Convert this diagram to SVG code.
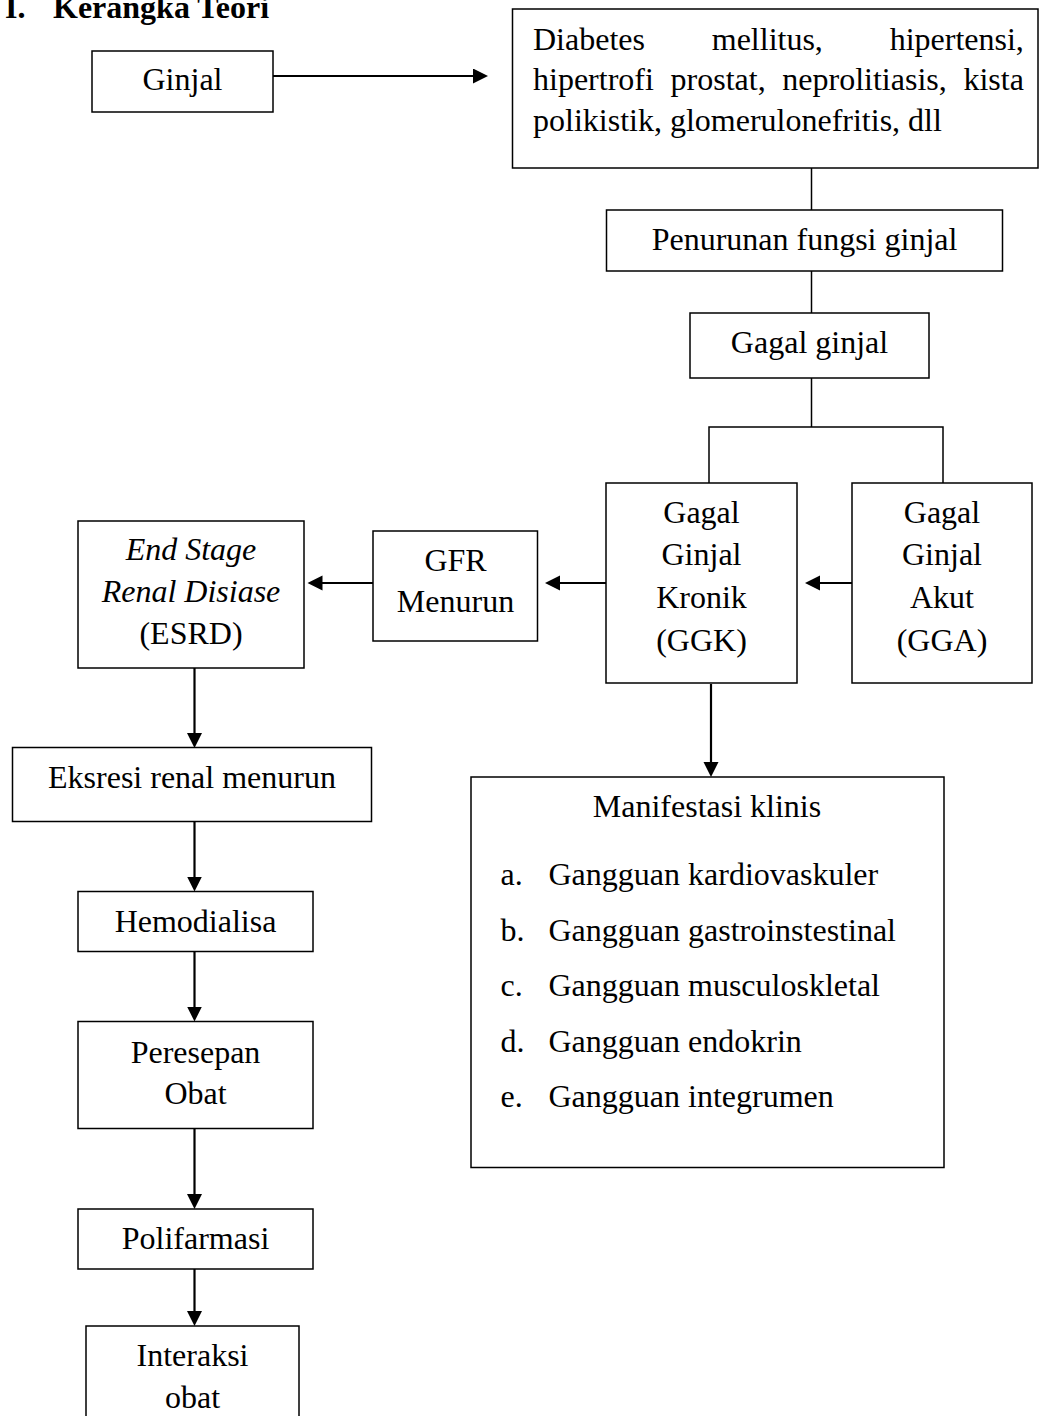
<svg xmlns="http://www.w3.org/2000/svg" width="1039" height="1416" viewBox="0 0 1039 1416">
<style>
.box{fill:#fff;stroke:#000;stroke-width:1.5}
.t{font-family:"Liberation Serif","Times New Roman",serif;font-size:32px;fill:#000}
.c{text-anchor:middle}
.i{font-style:italic}
.ln{fill:none;stroke:#000;stroke-width:1.5}
.ar{fill:none;stroke:#000;stroke-width:2.2;marker-end:url(#ah)}
</style>
<defs>
<marker id="ah" markerUnits="userSpaceOnUse" markerWidth="16" markerHeight="16" refX="7" refY="7.5" orient="auto">
<path d="M0,0 L15,7.5 L0,15 z" fill="#000"/>
</marker>
</defs>
<rect width="1039" height="1416" fill="#fff"/>
<text class="t" font-weight="bold" y="18"><tspan x="5">I.</tspan><tspan x="53">Kerangka Teori</tspan></text>

<g id="connectors">
<path class="ar" d="M273,76 L480,76"/>
<path class="ln" d="M811.5,168 L811.5,210"/>
<path class="ln" d="M811.5,271 L811.5,313"/>
<path class="ln" d="M811.5,378 L811.5,427 M709,483 L709,427 L943,427 L943,483"/>
<path class="ar" d="M852,583 L813,583"/>
<path class="ar" d="M606,583 L553,583"/>
<path class="ar" d="M373,583 L315.5,583"/>
<path class="ar" d="M711,684 L711,769"/>
<path class="ar" d="M194.5,668 L194.5,740"/>
<path class="ar" d="M194.5,822 L194.5,883.5"/>
<path class="ar" d="M194.5,952 L194.5,1013.5"/>
<path class="ar" d="M194.5,1129 L194.5,1201"/>
<path class="ar" d="M194.5,1269 L194.5,1318"/>
</g>

<g id="n-ginjal">
<rect class="box" x="92" y="51" width="181" height="61"/>
<text class="t c" x="182.5" y="90">Ginjal</text>
</g>
<g id="n-penyebab">
<rect class="box" x="512.5" y="9" width="525.5" height="159"/>
<text class="t" x="533" y="49.5" word-spacing="58.8">Diabetes mellitus, hipertensi,</text>
<text class="t" x="533" y="90" word-spacing="8.7">hipertrofi prostat, neprolitiasis, kista</text>
<text class="t" x="533" y="130.5">polikistik, glomerulonefritis, dll</text>
</g>
<g id="n-penurunan">
<rect class="box" x="606.5" y="210" width="396" height="61"/>
<text class="t c" x="804.5" y="249.5">Penurunan fungsi ginjal</text>
</g>
<g id="n-gagal">
<rect class="box" x="690" y="313" width="239" height="65"/>
<text class="t c" x="809.5" y="353">Gagal ginjal</text>
</g>
<g id="n-ggk">
<rect class="box" x="606" y="483" width="191" height="200"/>
<text class="t c" x="701.5" y="522.5">Gagal</text>
<text class="t c" x="701.5" y="565">Ginjal</text>
<text class="t c" x="701.5" y="608">Kronik</text>
<text class="t c" x="701.5" y="650.5">(GGK)</text>
</g>
<g id="n-gga">
<rect class="box" x="852" y="483" width="180" height="200"/>
<text class="t c" x="942" y="522.5">Gagal</text>
<text class="t c" x="942" y="565">Ginjal</text>
<text class="t c" x="942" y="608">Akut</text>
<text class="t c" x="942" y="650.5">(GGA)</text>
</g>
<g id="n-gfr">
<rect class="box" x="373" y="531" width="164.5" height="110"/>
<text class="t c" x="455.5" y="571">GFR</text>
<text class="t c" x="455.5" y="612">Menurun</text>
</g>
<g id="n-esrd">
<rect class="box" x="78" y="521" width="226" height="147"/>
<text class="t c i" x="191" y="560">End Stage</text>
<text class="t c i" x="191" y="602">Renal Disiase</text>
<text class="t c" x="191" y="644">(ESRD)</text>
</g>
<g id="n-eksresi">
<rect class="box" x="12.5" y="747.5" width="359" height="74"/>
<text class="t c" x="192" y="787.5">Eksresi renal menurun</text>
</g>
<g id="n-hemodialisa">
<rect class="box" x="78" y="891.5" width="235" height="60"/>
<text class="t c" x="195.5" y="932">Hemodialisa</text>
</g>
<g id="n-peresepan">
<rect class="box" x="78" y="1021.5" width="235" height="107"/>
<text class="t c" x="195.5" y="1062.5">Peresepan</text>
<text class="t c" x="195.5" y="1103.5">Obat</text>
</g>
<g id="n-polifarmasi">
<rect class="box" x="78" y="1209" width="235" height="60"/>
<text class="t c" x="195.5" y="1249">Polifarmasi</text>
</g>
<g id="n-interaksi">
<rect class="box" x="86" y="1326" width="213" height="100"/>
<text class="t c" x="192.5" y="1366">Interaksi</text>
<text class="t c" x="192.5" y="1408">obat</text>
</g>
<g id="n-manifestasi">
<rect class="box" x="471" y="777" width="473" height="390.5"/>
<text class="t c" x="707" y="816.5">Manifestasi klinis</text>
<text class="t" x="500.5" y="885">a.</text><text class="t" x="548.5" y="885">Gangguan kardiovaskuler</text>
<text class="t" x="500.5" y="940.5">b.</text><text class="t" x="548.5" y="940.5">Gangguan gastroinstestinal</text>
<text class="t" x="500.5" y="996">c.</text><text class="t" x="548.5" y="996">Gangguan musculoskletal</text>
<text class="t" x="500.5" y="1051.5">d.</text><text class="t" x="548.5" y="1051.5">Gangguan endokrin</text>
<text class="t" x="500.5" y="1107">e.</text><text class="t" x="548.5" y="1107">Gangguan integrumen</text>
</g>
</svg>
